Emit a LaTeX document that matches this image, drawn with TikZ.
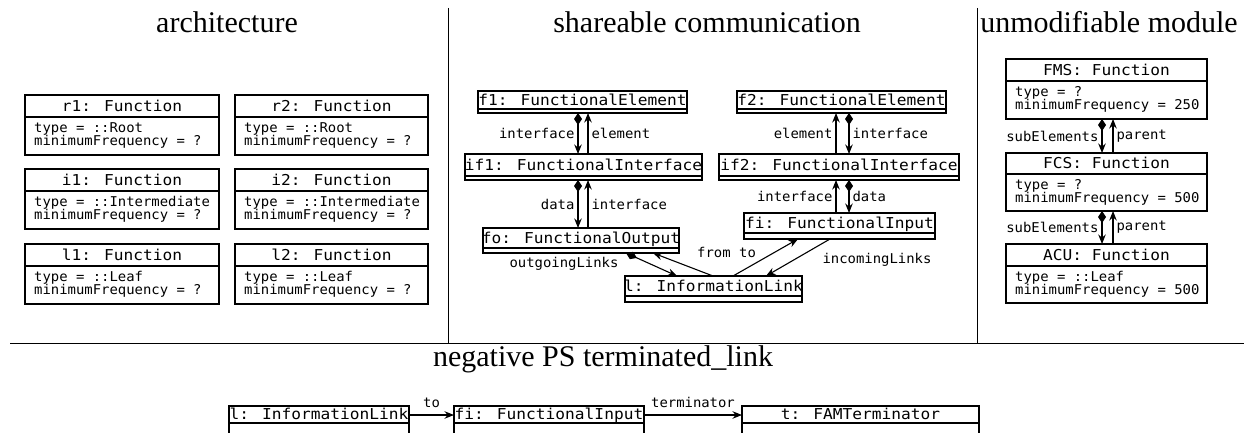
\documentclass[tikz,border=0pt]{standalone}
\usepackage{fontspec}
\newfontfamily\ttA[FakeStretch=1.08]{DejaVu Sans Mono}
\newfontfamily\ttB[FakeStretch=1.03]{DejaVu Sans Mono}
\newfontfamily\headfont{Liberation Serif}
\usetikzlibrary{arrows.meta,calc}
\tikzset{
 objbox/.style={draw, line width=1.1pt, inner sep=0pt, outer sep=0pt, anchor=north west},
 ttl/.style={font=\ttA\fontsize{15}{17}\selectfont, inner sep=0pt, anchor=base},
 attr/.style={font=\ttB\fontsize{13.5}{13.5}\selectfont, inner sep=0pt, anchor=base west},
 lbl/.style={font=\ttB\fontsize{13.5}{13.5}\selectfont, inner sep=0pt},
 head/.style={font=\headfont\fontsize{30}{34}\selectfont, inner sep=0pt, anchor=base},
 comp/.style={line width=1.1pt, {Diamond[length=12pt,width=8pt]}-{Stealth[length=9.5pt,width=7.5pt]}},
 nav/.style={line width=1.1pt, -{Stealth[length=9.5pt,width=7.5pt]}},
 sepline/.style={line width=0.9pt}
}
% #1 name, #2 x1, #3 y1, #4 x2, #5 ysplit, #6 y2, #7 title, #8 attr1, #9 attr2
\newcommand\umlobj[9]{%
 \node[objbox, minimum width={(#4-#2)*1pt}, minimum height={(#6-#3)*1pt}] (#1) at (#2,#3) {};
 \draw[line width=1.1pt] (#2,#5) -- (#4,#5);
 \node[ttl] (#1-t) at ({(#2+#4)/2},{#3+(#5-#3+10.8)/2}) {#7};
 \if\relax\detokenize{#8}\relax\else
 \node[attr] (#1-a) at ({#2+9},{#5+15.5}) {#8};
 \node[attr] (#1-b) at ({#2+9},{#5+28.5}) {#9};\fi
}
\begin{document}
\begin{tikzpicture}[x=1pt,y=-1pt]
\path[use as bounding box] (0,0) rectangle (1244,433);
\clip (0,0) rectangle (1244,433);
% headings
\node[head] (h1) at (227,33) {architecture};
\node[head] (h2) at (707,33) {shareable communication};
\node[head] (h3) at (1109,33) {unmodifiable module};
\node[head] (h4) at (603,366) {negative PS terminated\_link};
% separators
\coordinate (v1t) at (448,8); \coordinate (v1b) at (448,343);
\coordinate (v2t) at (977,8); \coordinate (v2b) at (977,343);
\coordinate (hl) at (10,343); \coordinate (hr) at (1244,343);
\draw[sepline] (v1t) -- (v1b);
\draw[sepline] (v2t) -- (v2b);
\draw[sepline] (hl) -- (hr);
% architecture
\umlobj{r1}{25}{95}{219}{117}{155}{r1: Function}{type = ::Root}{minimumFrequency = ?}
\umlobj{r2}{235}{95}{428}{117}{155}{r2: Function}{type = ::Root}{minimumFrequency = ?}
\umlobj{i1}{25}{169}{219}{191}{229}{i1: Function}{type = ::Intermediate}{minimumFrequency = ?}
\umlobj{i2}{235}{169}{428}{191}{229}{i2: Function}{type = ::Intermediate}{minimumFrequency = ?}
\umlobj{l1}{25}{244}{219}{266}{304}{l1: Function}{type = ::Leaf}{minimumFrequency = ?}
\umlobj{l2}{235}{244}{428}{266}{304}{l2: Function}{type = ::Leaf}{minimumFrequency = ?}
% shareable communication
\umlobj{f1}{478}{91}{687}{109}{113}{f1: FunctionalElement}{}{}
\umlobj{if1}{465}{154}{702}{176}{180}{if1: FunctionalInterface}{}{}
\umlobj{fo}{483}{228}{679}{248}{253}{fo: FunctionalOutput}{}{}
\umlobj{lk}{625}{276}{802}{296}{302}{l: InformationLink}{}{}
\umlobj{f2}{737}{91}{946}{109}{113}{f2: FunctionalElement}{}{}
\umlobj{if2}{719}{154}{959}{176}{180}{if2: FunctionalInterface}{}{}
\umlobj{fi}{744}{213}{935}{233}{239}{fi: FunctionalInput}{}{}
\coordinate (xA) at (578,0); \coordinate (xB) at (588,0);
\coordinate (xC) at (836,0); \coordinate (xD) at (849,0);
\draw[comp] (f1.south -| xA) -- (if1.north -| xA) node[lbl,midway,left=3pt]{interface};
\draw[nav] (if1.north -| xB) -- (f1.south -| xB) node[lbl,midway,right=3pt]{element};
\draw[comp] (if1.south -| xA) -- (fo.north -| xA) node[lbl,midway,left=3pt]{data};
\draw[nav] (fo.north -| xB) -- (if1.south -| xB) node[lbl,midway,right=3pt]{interface};
\draw[nav] (if2.north -| xC) -- (f2.south -| xC) node[lbl,midway,left=3pt]{element};
\draw[comp] (f2.south -| xD) -- (if2.north -| xD) node[lbl,midway,right=3pt]{interface};
\draw[nav] (fi.north -| xC) -- (if2.south -| xC) node[lbl,midway,left=3pt]{interface};
\draw[comp] (if2.south -| xD) -- (fi.north -| xD) node[lbl,midway,right=3pt]{data};
\coordinate (xo1) at (626,0); \coordinate (xo2) at (677,0);
\coordinate (xf1) at (713,0); \coordinate (xf2) at (653,0);
\coordinate (xt1) at (733,0); \coordinate (xt2) at (798,0);
\coordinate (xi1) at (830,0); \coordinate (xi2) at (766,0);
\draw[comp] (fo.south -| xo1) -- (lk.north -| xo2);
\draw[nav] (lk.north -| xf1) -- (fo.south -| xf2);
\draw[nav] (lk.north -| xt1) -- (fi.south -| xt2);
\draw[nav] (fi.south -| xi1) -- (lk.north -| xi2);
\node[lbl,anchor=base] (lo) at (564,267) {outgoingLinks};
\node[lbl,anchor=base west] (lf) at (697,257) {from};
\node[lbl,anchor=base west] (lt) at (739,257) {to};
\node[lbl,anchor=base] (li) at (877,263) {incomingLinks};
% unmodifiable module
\umlobj{fms}{1006}{59}{1207}{81}{119}{FMS: Function}{type = ?}{minimumFrequency = 250}
\umlobj{fcs}{1006}{153}{1207}{174}{211}{FCS: Function}{type = ?}{minimumFrequency = 500}
\umlobj{acu}{1006}{244}{1207}{266}{303}{ACU: Function}{type = ::Leaf}{minimumFrequency = 500}
\coordinate (xE) at (1102,0); \coordinate (xF) at (1113,0);
\draw[comp] (fms.south -| xE) -- (fcs.north -| xE) node[lbl,midway,left=3pt]{subElements};
\draw[nav] (fcs.north -| xF) -- (fms.south -| xF) node[lbl,midway,right=3pt]{parent};
\draw[comp] (fcs.south -| xE) -- (acu.north -| xE) node[lbl,midway,left=3pt]{subElements};
\draw[nav] (acu.north -| xF) -- (fcs.south -| xF) node[lbl,midway,right=3pt]{parent};
% negative PS
\umlobj{nl}{229}{406}{409}{423}{450}{l: InformationLink}{}{}
\umlobj{nfi}{454}{406}{644}{423}{450}{fi: FunctionalInput}{}{}
\umlobj{nt}{742}{406}{979}{423}{450}{t: FAMTerminator}{}{}
\coordinate (ny) at (0,415);
\draw[nav] (nl.east |- ny) -- (nfi.west |- ny) node[lbl,midway,above=7pt]{to};
\draw[nav] (nfi.east |- ny) -- (nt.west |- ny) node[lbl,midway,above=7pt]{terminator};
\end{tikzpicture}
\end{document}
